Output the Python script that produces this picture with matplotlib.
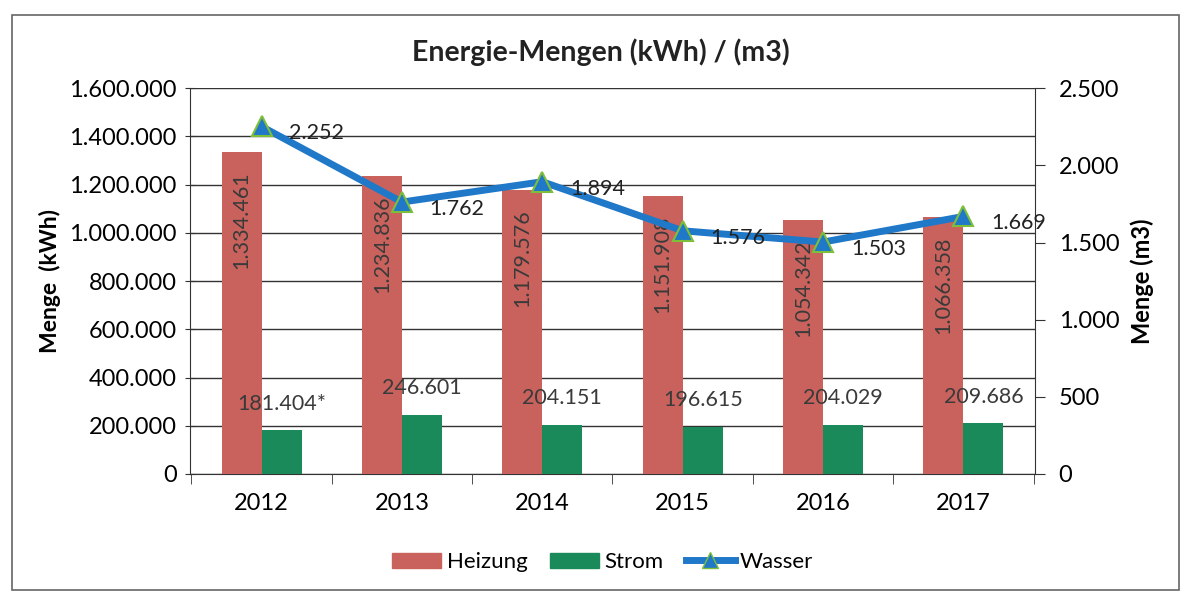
import matplotlib
matplotlib.use("Agg")
import matplotlib.pyplot as plt
from matplotlib.patches import Rectangle, Patch
from matplotlib.lines import Line2D
from matplotlib.ticker import FuncFormatter, MultipleLocator

plt.rcParams['font.family'] = ['Lato', 'DejaVu Sans']

years = ["2012", "2013", "2014", "2015", "2016", "2017"]
heizung = [1334461, 1234836, 1179576, 1151908, 1054342, 1066358]
strom = [181404, 246601, 204151, 196615, 204029, 209686]
strom_labels = ["181.404*", "246.601", "204.151", "196.615", "204.029", "209.686"]
wasser = [2252, 1762, 1894, 1576, 1503, 1669]

def de(v):
    return f"{int(round(v)):,}".replace(",", ".")

c_heiz = "#C9625C"
c_strom = "#1B8A5A"
c_line = "#1F78C8"
c_text = "#3a3a3a"

fig = plt.figure(figsize=(11.87, 6.0), dpi=100)
ax = fig.add_axes([0.160, 0.210, 0.712, 0.643])
ax2 = ax.twinx()

x = list(range(len(years)))
w = 0.285
xh = [i - w / 2 for i in x]
xs = [i + w / 2 for i in x]

ax.bar(xh, heizung, width=w, color=c_heiz, zorder=3)
ax.bar(xs, strom, width=w, color=c_strom, zorder=3)

ax.set_xlim(-0.51, 5.51)
ax.set_ylim(0, 1600000)
ax.yaxis.set_major_locator(MultipleLocator(200000))
ax.yaxis.set_major_formatter(FuncFormatter(lambda v, p: de(v)))
ax.grid(axis='y', color="#333333", linewidth=1.0, zorder=0)
ax.set_axisbelow(True)

ax.set_xticks(x)
ax.set_xticklabels(years)
ax.set_xticks([i + 0.5 for i in range(-1, 6)], minor=True)
ax.tick_params(axis='x', which='major', length=0, labelsize=17, pad=14)
ax.tick_params(axis='x', which='minor', length=7, direction='out', color="#333333")
ax.tick_params(axis='y', labelsize=17, length=7, direction='inout', color="#333333", pad=6)

for s in ['top', 'right']:
    ax.spines[s].set_visible(False)
ax.spines['left'].set_color("#333333")
ax.spines['bottom'].set_color("#333333")

ax.set_ylabel("Menge  (kWh)", fontsize=16.5, fontweight='bold', labelpad=6)

# Heizung labels (rotated inside top)
for xi, v in zip(xh, heizung):
    ax.annotate(de(v), (xi, v), xytext=(0, -14), textcoords='offset points',
                rotation=90, ha='center', va='top', fontsize=15.5, color=c_text, zorder=5)
# Strom labels above bars
for xi, v, lab in zip(xs, strom, strom_labels):
    ax.annotate(lab, (xi, v), xytext=(0, 12), textcoords='offset points',
                ha='center', va='bottom', fontsize=15.5, color=c_text, zorder=5)

# Wasser line
ax2.plot(x, wasser, color=c_line, linewidth=5, marker='^', markersize=15,
         markerfacecolor=c_line, markeredgecolor="#7DBF3A", markeredgewidth=1.5, zorder=6)
ax2.set_ylim(0, 2500)
ax2.yaxis.set_major_locator(MultipleLocator(500))
ax2.yaxis.set_major_formatter(FuncFormatter(lambda v, p: de(v)))
ax2.tick_params(axis='y', labelsize=17, length=7, direction='out', color="#333333", pad=10)
for s in ['top', 'left', 'bottom']:
    ax2.spines[s].set_visible(False)
ax2.spines['right'].set_color("#333333")
ax2.set_ylabel("Menge (m3)", fontsize=17, fontweight='bold', labelpad=8)

for xi, v in zip(x, wasser):
    ax2.annotate(de(v), (xi, v), xytext=(20, -5), textcoords='offset points',
                 ha='left', va='center', fontsize=15.5, color="#222222", zorder=7)

fig.text(0.506, 0.913, "Energie-Mengen (kWh) / (m3)", ha='center', va='center',
         fontsize=20.5, fontweight='bold', color="#222222")

handles = [Patch(color=c_heiz), Patch(color=c_strom),
           Line2D([0], [0], color=c_line, linewidth=5, marker='^', markersize=12,
                  markerfacecolor=c_line, markeredgecolor="#7DBF3A")]
fig.legend(handles, ["Heizung", "Strom", "Wasser"], loc='center',
           bbox_to_anchor=(0.508, 0.063), ncol=3, frameon=False, fontsize=16,
           handlelength=2.2, handletextpad=0.25, columnspacing=1.0)

fig.patches.append(Rectangle((0.010, 0.017), 0.983, 0.958, transform=fig.transFigure,
                             fill=False, edgecolor="#666666", linewidth=1.2))

fig.savefig("out.png", dpi=100)
